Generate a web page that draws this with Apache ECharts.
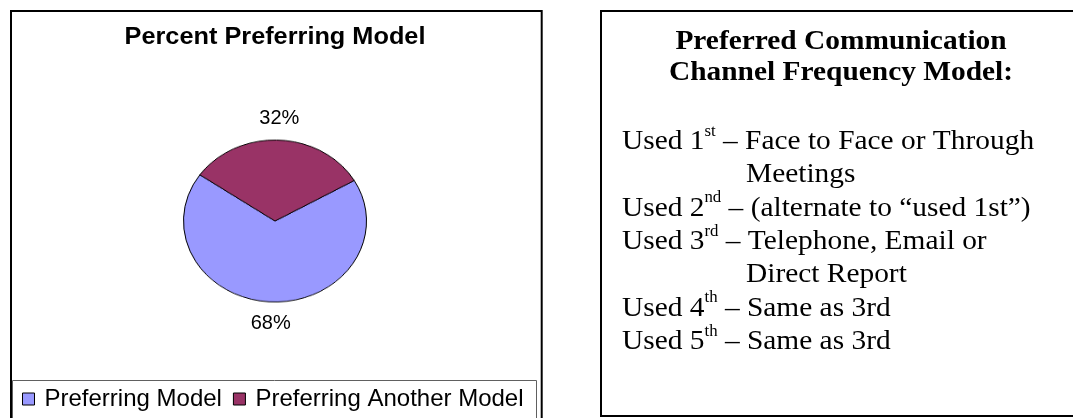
<!DOCTYPE html>
<html>
<head>
<meta charset="utf-8">
<script src="https://cdn.jsdelivr.net/npm/echarts@6/dist/echarts.min.js"></script>
<style>
html, body { margin: 0; padding: 0; background: #fff; }
#wrap { position: relative; width: 1073px; height: 418px; overflow: hidden; }
#main, #pie { position: absolute; left: 0; top: 0; width: 1073px; height: 418px; }
#pie { transform-origin: 275px 221px; transform: scaleY(0.885); pointer-events: none; }
</style>
</head>
<body>
<div id="wrap"><div id="main"></div><div id="pie"></div></div>
<script>
// ---- data ----
const categories = ['Preferring Model', 'Preferring Another Model'];
const values = [68, 32];
const colors = ['#9999FF', '#993366'];
const chartTitle = 'Percent Preferring Model';
const panelTitle = ['Preferred Communication', 'Channel Frequency Model:'];
const modelLines = [
  'Used 1{s|st} \u2013 Face to Face or Through',
  'Meetings',
  'Used 2{s|nd} \u2013 (alternate to \u201Cused 1st\u201D)',
  'Used 3{s|rd} \u2013 Telephone, Email or',
  'Direct Report',
  'Used 4{s|th} \u2013 Same as 3rd',
  'Used 5{s|th} \u2013 Same as 3rd'
];

const SANS = "'Liberation Sans', Arial, sans-serif";
const SERIF = "'Liberation Serif', 'Times New Roman', serif";

const pieData = categories.map((n, i) => ({ name: n, value: values[i] }));

// ---- main layer: frames, title, legend, labels, text panel ----
const graphics = [
  { type: 'rect', shape: { x: 11, y: 11, width: 530.7, height: 440 },
    style: { fill: 'none', stroke: '#000', lineWidth: 2 }, silent: true },
  { type: 'rect', shape: { x: 12.5, y: 380.5, width: 524, height: 70 },
    style: { fill: 'none', stroke: '#606060', lineWidth: 1 }, silent: true },
  { type: 'rect', shape: { x: 601, y: 11, width: 540, height: 405 },
    style: { fill: 'none', stroke: '#000', lineWidth: 2 }, silent: true },
  { type: 'text', x: 275, y: 38, scaleX: 1.1, silent: true,
    style: { text: chartTitle, fontSize: 23, fontWeight: 'bold', fontFamily: SANS,
             fill: '#000', align: 'center', verticalAlign: 'middle' } }
];
panelTitle.forEach((t, i) => {
  graphics.push({ type: 'text', x: 841, y: 41.5 + i * 31.7, scaleX: 1.05, silent: true,
    style: { text: t, fontSize: 28, fontWeight: 'bold', fontFamily: SERIF,
             fill: '#000', align: 'center', verticalAlign: 'middle' } });
});
modelLines.forEach((t, i) => {
  const lead = t.indexOf('Used') === 0;
  graphics.push({ type: 'text', x: lead ? 622 : 746, y: 141.5 + i * 33.33, scaleX: 1.05, silent: true,
    style: { text: t, fontSize: 28, fontFamily: SERIF, lineHeight: 36,
             fill: '#000', align: 'left', verticalAlign: 'middle',
             rich: { s: { fontSize: 16, lineHeight: 16, fontFamily: SERIF, fill: '#000', verticalAlign: 'top' } } } });
});

const main = echarts.init(document.getElementById('main'));
main.setOption({
  animation: false,
  legend: {
    left: 22, top: 387, padding: 0, orient: 'horizontal',
    itemWidth: 12, itemHeight: 12, itemGap: 11, icon: 'rect',
    data: categories.map((n, i) => ({ name: n,
      itemStyle: { color: colors[i], borderColor: '#000', borderWidth: 1, opacity: 1 } })),
    textStyle: { fontFamily: SANS, fontSize: 24, color: '#000', padding: [0, 0, 0, 5] }
  },
  series: [{
    type: 'pie', silent: true, center: [275, 221], radius: [90, 110],
    startAngle: 30, clockwise: true, data: pieData,
    itemStyle: { color: 'rgba(0,0,0,0)', borderWidth: 0 },
    label: { show: true, position: 'inside', formatter: '{d}%', fontFamily: SANS,
             fontSize: 20, color: '#000', textBorderWidth: 0 },
    labelLine: { show: false },
    emphasis: { disabled: true }
  }],
  graphic: graphics
});

// ---- pie layer (vertically squashed into the ellipse of the reference) ----
const pie = echarts.init(document.getElementById('pie'));
pie.setOption({
  animation: false,
  color: colors,
  series: [{
    type: 'pie', silent: true, center: [275, 221], radius: 91.5,
    startAngle: 30, clockwise: true, data: pieData,
    itemStyle: { borderColor: '#000', borderWidth: 1 },
    label: { show: false }, labelLine: { show: false },
    emphasis: { disabled: true }
  }]
});
</script>
</body>
</html>
